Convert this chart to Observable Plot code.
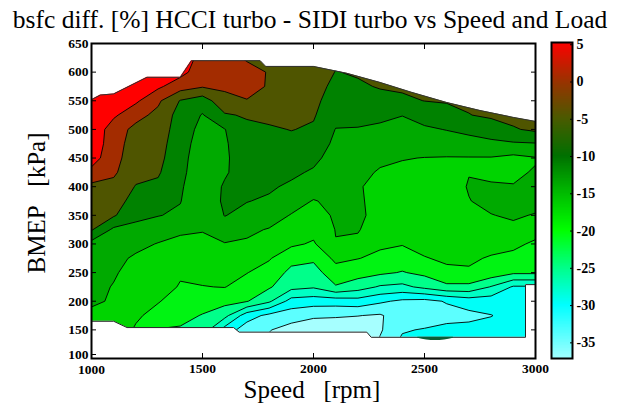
<!DOCTYPE html>
<html><head><meta charset="utf-8">
<script src="https://cdn.jsdelivr.net/npm/d3@7"></script>
<script src="https://cdn.jsdelivr.net/npm/@observablehq/plot@0.6"></script>
<style>
html,body{margin:0;padding:0;background:#fff;}
#wrap{position:relative;width:620px;height:404px;overflow:hidden;background:#fff;}
#wrap svg{position:absolute;top:0;}
</style></head><body><div id="wrap"></div>
<script>
const titleText = "bsfc diff. [%] HCCI turbo - SIDI turbo vs Speed and Load";
const xLabel = "Speed\u00a0\u00a0\u00a0[rpm]";
const yLabel = "BMEP\u00a0\u00a0\u00a0[kPa]";

// grid: speed [rpm] columns, load [kPa] rows (top to bottom)
const speeds = [1000,1100,1200,1300,1400,1500,1600,1700,1800,1900,2000,2100,2200,2300,2400,2500,2600,2700,2800,2900,3000];
const loads = [650,625,600,575,550,525,500,475,450,425,400,375,350,325,300,275,250,225,200,175,150,125];

// bsfc difference [%], one array per speed, loads 650 -> 125 kPa
const bsfcDiff = [
  [5,5,5,5,5,4.5,4.2,4,3,0.4,-3,-4,-4.5,-5.3,-10.3,-11,-11.2,-11.5,-12,-13.5,-14,-14],
  [4,4,4,3.5,3,2,-0.5,-0.8,-1,-1.6,-3,-4,-5.2,-9.8,-10.5,-11.5,-12.2,-12.8,-13,-13.5,-14,-14],
  [4.5,4.5,4.2,3.5,2,-1,-3,-3.5,-4,-4.5,-5.8,-7,-8.5,-9.8,-11.5,-13.2,-14,-14.5,-15,-15.6,-16.5,-17],
  [4,3.8,3,2,-1.5,-3,-3.5,-4,-4.5,-5.2,-6.3,-7.5,-9,-10.5,-12.8,-13.5,-14.2,-15,-15.9,-17.2,-19.8,-21],
  [3,3,2.5,-0.5,-5.8,-7,-7.5,-8,-8.3,-8.5,-8.8,-9,-9.5,-12,-13.5,-14.5,-15.8,-16.3,-17.5,-18.5,-20,-21],
  [1,0.5,-0.5,-1.8,-7.5,-9.3,-10,-10.3,-10.5,-10.6,-10.8,-11.2,-11.8,-12.4,-13.5,-14.5,-15.2,-16.2,-18,-19.8,-21,-22],
  [-0.5,-0.8,-1.2,-1.6,-3,-6,-9.2,-9.5,-9.6,-9.4,-8.8,-8.6,-9,-10.5,-12.8,-14,-15,-16,-18.5,-22,-28,-29],
  [-3,-2.5,-1,-0.5,-2.3,-5.2,-6.5,-7,-7.3,-7.8,-8.5,-9,-10,-12,-13,-14.5,-16,-17.5,-19.4,-28.5,-32,-33],
  [-2.5,-2.5,-2.3,-2.5,-3.2,-4.8,-6,-6.5,-7,-7.8,-8.7,-9.5,-11,-12.8,-14,-15.8,-17.5,-19.2,-22.5,-31,-33.4,-34.5],
  [-3,-3,-3.2,-3.5,-4,-4.8,-5.5,-6.5,-7.5,-8.5,-9.6,-11,-12.8,-14,-15.5,-18.5,-20.5,-22,-28,-32,-35,-36],
  [-3.5,-3.5,-3.8,-4.2,-4.8,-5.3,-6,-7.2,-8.3,-9.5,-10.8,-12.8,-13.8,-15,-16.5,-19,-21,-22.7,-28.5,-33,-36,-37],
  [-4.5,-5,-5.7,-6.5,-7.2,-8,-9.2,-9.8,-10.5,-11,-11.4,-11.8,-12.2,-12.5,-12.7,-15.3,-17.5,-19.9,-28.5,-33.2,-36,-37],
  [-4.5,-4.8,-5.3,-6,-6.8,-8,-9.3,-10,-10.8,-11.5,-12.3,-12,-11.5,-12.3,-13.5,-16,-18.2,-21.5,-28,-33.5,-36,-37],
  [-5,-5.3,-5.5,-5.4,-6.5,-8.5,-9.6,-10.3,-11.8,-13,-13.6,-14,-14.5,-15,-15.6,-16.8,-19,-23.5,-29.5,-34,-34,-33],
  [-5,-5.2,-5.4,-5.1,-6.2,-9,-10.5,-11.3,-12.4,-13.5,-14,-14.4,-14.8,-15.3,-15.9,-17.8,-19.8,-24,-30.8,-31.5,-30.5,-29],
  [-5,-5,-5.1,-5.2,-5.55,-8,-9.5,-10.5,-12.7,-13.5,-14,-14.3,-14.6,-15,-15.5,-16.2,-18.8,-22.2,-31.2,-32.5,-29.8,-28],
  [-5,-5,-5,-5,-5.3,-7,-9,-10.5,-12.8,-13.5,-14,-14.3,-14.6,-15,-15.4,-15.8,-16.5,-20.5,-29.8,-31.5,-29,-28],
  [-4.5,-4.5,-4.6,-4.8,-5,-5.7,-8.5,-10,-12.8,-12.7,-12.4,-12.7,-13.5,-14.2,-14.8,-15.6,-16.5,-20.5,-28.5,-31,-29,-28],
  [-4,-4,-4.2,-4.4,-4.6,-5,-7.5,-9.8,-12.8,-13,-12.4,-11.8,-12.7,-13.8,-15,-16.4,-17.5,-23.3,-28.5,-30.2,-29,-28],
  [-3.5,-3.5,-3.8,-4,-4.3,-4.6,-5.9,-9.5,-13.5,-13,-12.5,-11.5,-12.2,-13.3,-15.2,-17.2,-19,-27,-28.5,-29,-28.5,-28],
  [-3,-3,-3.2,-3.5,-3.8,-4.2,-5,-9.3,-12.8,-12.4,-11.8,-11.5,-12.8,-14.5,-16.8,-18,-19,-27,-28.5,-29,-28.5,-28]
];

// contour levels and band colours
const levels = [-33.6,-30.1,-26.6,-23.1,-19.6,-16.1,-12.6,-9.1,-5.6,-2.1,1.4];
const bandColors = ["#a6ffff","#5cffff","#00fff8","#00ffc4","#00ff8a","#00f412","#00d400","#00aa00","#008200","#4f5500","#a32c00","#ff0000"];

// measured-map boundary
const topSpeed = [1000,1040,1100,1250,1400,1450,1760,1785,2000,2150,2300,2440,2600,2750,2900,3000];
const topLoad  = [552,560,562,591,591,620,620,610,610,598,582,565,547,533,521,514];
const botSpeed = [1000,1100,1160,1640,1665,2240,2260,2955,2955,3000];
const botLoad  = [165,165,154,154,146,146,137,137,229,229];
// small dark sliver below the map near 2550 rpm
const sliverSpeed = [2470,2510,2550,2590,2630];
const sliverTop = [137,137,137,137,137];
const sliverBottom = [135.5,132.5,131.5,132.5,135.5];

const xTicks = [1000,1500,2000,2500,3000];
const yTicks = [100,150,200,250,300,350,400,450,500,550,600,650];

// colour bar
const cbMin = -37.1, cbMax = 5.3;
const cbTicks = [5,0,-5,-10,-15,-20,-25,-30,-35];
const cbStops = [-37.1,-30,-25,-20,-15,-10,-5,0,5.3];
const cbColors = ["#a0ffff","#00ffff","#00ff88","#00ff00","#00bb00","#007000","#4a5a00","#9a3200","#ff0000"];

// ---- build ----
const nx = speeds.length, ny = loads.length;
const grid = new Array(nx * ny);
for (let j = 0; j < ny; ++j) for (let i = 0; i < nx; ++i) grid[j * nx + i] = bsfcDiff[i][ny - 1 - j];
const dS = speeds[1] - speeds[0], dL = loads[0] - loads[1];
const thresholds = [d3.min(grid), ...levels];
const topEdge = topSpeed.map((s, i) => ({speed: s, load: topLoad[i]}));
const botEdge = botSpeed.map((s, i) => ({speed: s, load: botLoad[i]}));
const sliver = sliverSpeed.map((s, i) => ({speed: s, top: sliverTop[i], bottom: sliverBottom[i]}));
const font = "'Liberation Serif', 'Times New Roman', serif";
const yLow = yTicks[0], xLow = xTicks[0];

const main = Plot.plot({
  width: 620, height: 404,
  marginLeft: 91, marginRight: 85, marginTop: 43, marginBottom: 46,
  style: {fontFamily: font, fontSize: "13.5px", fontWeight: "bold", color: "#000", background: "white"},
  x: {domain: [1000, 3000]},
  y: {domain: [100, 650]},
  color: {type: "ordinal", domain: thresholds, range: bandColors},
  marks: [
    Plot.contour(grid, {
      width: nx, height: ny,
      x1: speeds[0] - dS / 2, x2: speeds[nx - 1] + dS / 2,
      y1: loads[ny - 1] - dL / 2, y2: loads[0] + dL / 2,
      fill: Plot.identity, thresholds, stroke: "#000", strokeWidth: 0.9, clip: true
    }),
    Plot.areaY(topEdge, {x: "speed", y1: "load", y2: 650, fill: "white"}),
    Plot.areaY(botEdge, {x: "speed", y1: 100, y2: "load", fill: "white"}),
    Plot.line(topEdge, {x: "speed", y: "load", stroke: "#333", strokeWidth: 1}),
    Plot.line(botEdge, {x: "speed", y: "load", stroke: "#222", strokeWidth: 1}),
    Plot.areaY(sliver, {x: "speed", y1: "bottom", y2: "top", fill: "#0b5d36", curve: "natural"}),
    Plot.frame({stroke: "#000", strokeWidth: 2}),
    Plot.axisX({ticks: xTicks.slice(1), tickSize: -5, tickPadding: 10, tickFormat: d => String(d), label: null}),
    Plot.axisX({ticks: [xLow], tickSize: -5, tickPadding: 11, tickFormat: d => String(d), label: null}),
    Plot.axisX({anchor: "top", ticks: xTicks, tickSize: -5, tickFormat: () => "", label: null}),
    Plot.axisY({ticks: yTicks.slice(1), tickSize: -5, tickPadding: 8, tickFormat: d => String(d), label: null}),
    Plot.axisY({ticks: [yLow], tickSize: -5, tickPadding: 8, dy: -4, tickFormat: d => String(d), label: null}),
    Plot.axisY({anchor: "right", ticks: yTicks, tickSize: -5, tickFormat: () => "", label: null})
  ]
});

const cbSteps = d3.range(cbMin, cbMax, 0.1);
const cb = Plot.plot({
  width: 85, height: 404,
  marginLeft: 16, marginRight: 48, marginTop: 42, marginBottom: 46,
  style: {fontFamily: font, fontSize: "14px", fontWeight: "bold", color: "#000", background: "transparent"},
  x: {domain: [0, 1], axis: null},
  y: {domain: [cbMin, cbMax]},
  color: {type: "linear", domain: cbStops, range: cbColors},
  marks: [
    Plot.rect(cbSteps, {x1: 0, x2: 1, y1: d => d, y2: d => Math.min(cbMax, d + 0.15), fill: d => d, shapeRendering: "crispEdges"}),
    Plot.frame({stroke: "#000", strokeWidth: 2}),
    Plot.axisY({anchor: "right", ticks: cbTicks, tickSize: -3, tickPadding: 7, tickFormat: d => String(d), label: null})
  ]
});

const wrap = document.getElementById("wrap");
main.style.left = "0px";
cb.style.left = "535px";
wrap.appendChild(main);
wrap.appendChild(cb);

const svg = d3.select(main);
svg.append("text").attr("x", 310).attr("y", 28).attr("text-anchor", "middle")
  .attr("font-family", font).attr("font-size", 25.5).attr("font-weight", "normal").attr("fill", "#000")
  .text(titleText);
svg.append("text").attr("x", 312).attr("y", 398).attr("text-anchor", "middle")
  .attr("font-family", font).attr("font-size", 25).attr("font-weight", "normal").attr("fill", "#000")
  .text(xLabel);
svg.append("text").attr("transform", "translate(45,203) rotate(-90)").attr("text-anchor", "middle")
  .attr("font-family", font).attr("font-size", 25).attr("font-weight", "normal").attr("fill", "#000")
  .text(yLabel);
</script></body></html>
